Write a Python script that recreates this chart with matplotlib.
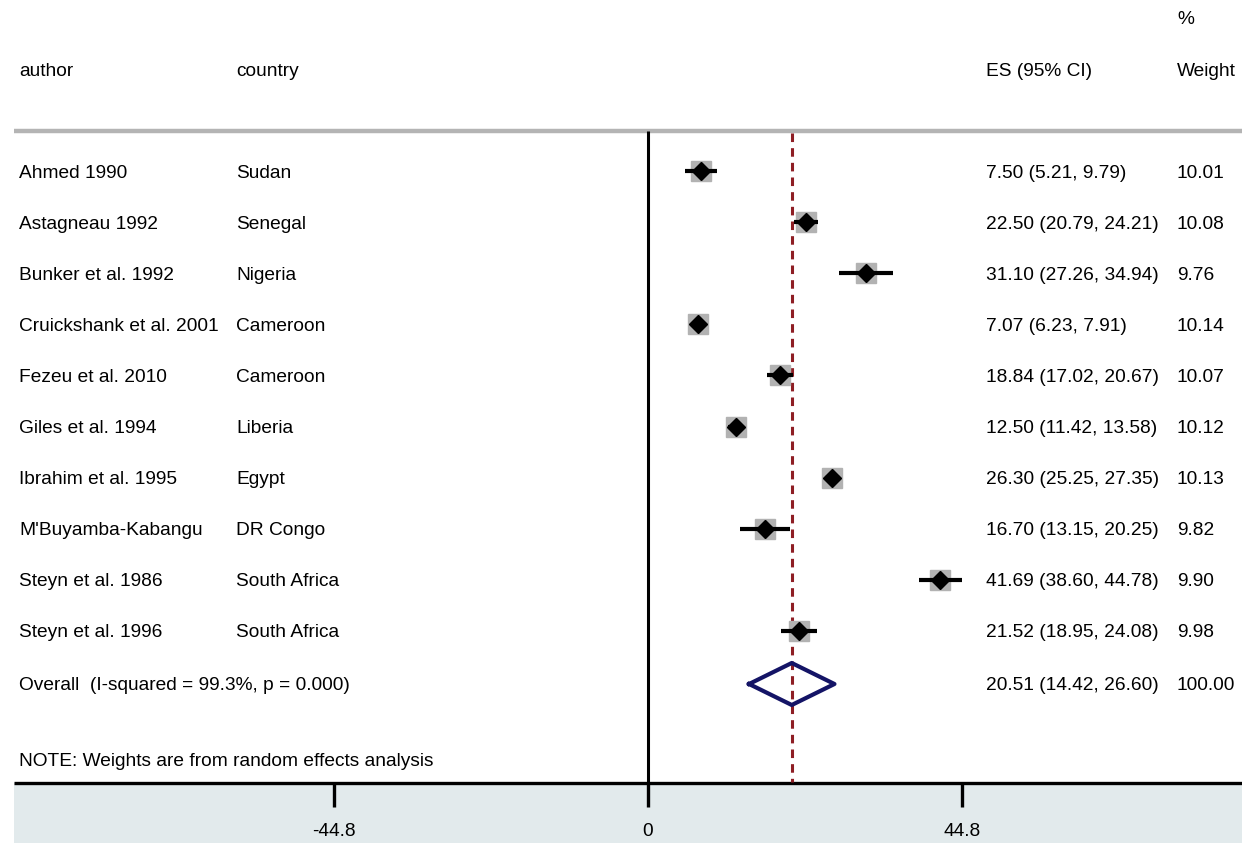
import numpy as np
import matplotlib
matplotlib.use("Agg")
import matplotlib.pyplot as plt
from matplotlib.transforms import blended_transform_factory

plt.rcParams['font.family'] = ['Liberation Sans', 'DejaVu Sans']

authors = ["Ahmed 1990", "Astagneau 1992", "Bunker et al. 1992",
           "Cruickshank et al. 2001", "Fezeu et al. 2010", "Giles et al. 1994",
           "Ibrahim et al. 1995", "M'Buyamba-Kabangu", "Steyn et al. 1986",
           "Steyn et al. 1996"]
countries = ["Sudan", "Senegal", "Nigeria", "Cameroon", "Cameroon", "Liberia",
             "Egypt", "DR Congo", "South Africa", "South Africa"]
es = [7.50, 22.50, 31.10, 7.07, 18.84, 12.50, 26.30, 16.70, 41.69, 21.52]
lo = [5.21, 20.79, 27.26, 6.23, 17.02, 11.42, 25.25, 13.15, 38.60, 18.95]
hi = [9.79, 24.21, 34.94, 7.91, 20.67, 13.58, 27.35, 20.25, 44.78, 24.08]
weights = [10.01, 10.08, 9.76, 10.14, 10.07, 10.12, 10.13, 9.82, 9.90, 9.98]

overall_es, overall_lo, overall_hi = 20.51, 14.42, 26.60
overall_label = "Overall  (I-squared = 99.3%, p = 0.000)"
note = "NOTE: Weights are from random effects analysis"
ticks = [-44.8, 0, 44.8]

W, H = 1242, 843
fig = plt.figure(figsize=(W / 100, H / 100), dpi=100)
ax = fig.add_axes([0, 0, 1, 1])
ax.axis('off')

# x scale: 0 at px 648, 44.8 at px 962
ppu = (962 - 648) / 44.8
ax.set_xlim(-648 / ppu, (W - 648) / ppu)
ax.set_ylim(H, 0)
tr = blended_transform_factory(ax.transAxes, ax.transData)

row_y = 171 + 51.1 * np.arange(len(es))
over_y = 684
fs = 13.8

# header
ax.text(1177 / W, 17, "%", transform=tr, fontsize=fs, va='center_baseline')
for xp, s in [(19, "author"), (236, "country"), (986, "ES (95% CI)"),
              (1177, "Weight")]:
    ax.text(xp / W, 69, s, transform=tr, fontsize=fs, va='center_baseline')
ax.plot([14 / W, 1], [131, 131], transform=tr, color='#b4b4b4', lw=3.2,
        solid_capstyle='butt')

# bottom band and axis
ax.fill_between([14 / W, 1], 783, H, transform=tr, color='#e2eaec', lw=0)
ax.plot([14 / W, 1], [783, 783], transform=tr, color='black', lw=2.4,
        solid_capstyle='butt')
for t in ticks:
    ax.plot([t, t], [783, 807], color='black', lw=2.4, solid_capstyle='butt')
    ax.text(t, 830, f"{t:g}", ha='center', va='center_baseline', fontsize=fs)

# null line and overall line
ax.plot([0, 0], [131, 783], color='black', lw=2.2, solid_capstyle='butt')
ax.plot([overall_es, overall_es], [133, 782], color='#8e1e24', lw=2.2,
        dashes=(2.8, 2.0))

# studies
for i in range(len(es)):
    y = row_y[i]
    side = 14.2 * np.sqrt(weights[i] / 10.0)
    ax.plot(es[i], y, marker='s', ms=side, color='#b2b2b2', mec='#b2b2b2',
            zorder=3)
    ax.plot([lo[i], hi[i]], [y, y], color='black', lw=3.0,
            solid_capstyle='butt', zorder=4)
    ax.plot(es[i], y, marker='D', ms=9.5, color='black', zorder=5)
    ax.text(19 / W, y, authors[i], transform=tr, fontsize=fs,
            va='center_baseline')
    ax.text(236 / W, y, countries[i], transform=tr, fontsize=fs,
            va='center_baseline')
    ax.text(986 / W, y, f"{es[i]:.2f} ({lo[i]:.2f}, {hi[i]:.2f})",
            transform=tr, fontsize=fs, va='center_baseline')
    ax.text(1177 / W, y, f"{weights[i]:.2f}", transform=tr, fontsize=fs,
            va='center_baseline')

# overall diamond
dh = 21
ax.plot([overall_lo, overall_es, overall_hi, overall_es, overall_lo],
        [over_y, over_y - dh, over_y, over_y + dh, over_y],
        color='#141466', lw=3.0, zorder=5)
ax.text(19 / W, over_y, overall_label, transform=tr, fontsize=fs,
        va='center_baseline')
ax.text(986 / W, over_y,
        f"{overall_es:.2f} ({overall_lo:.2f}, {overall_hi:.2f})",
        transform=tr, fontsize=fs, va='center_baseline')
ax.text(1177 / W, over_y, "100.00", transform=tr, fontsize=fs,
        va='center_baseline')

ax.text(19 / W, 759, note, transform=tr, fontsize=fs, va='center_baseline')

fig.savefig("out.png", dpi=100)
